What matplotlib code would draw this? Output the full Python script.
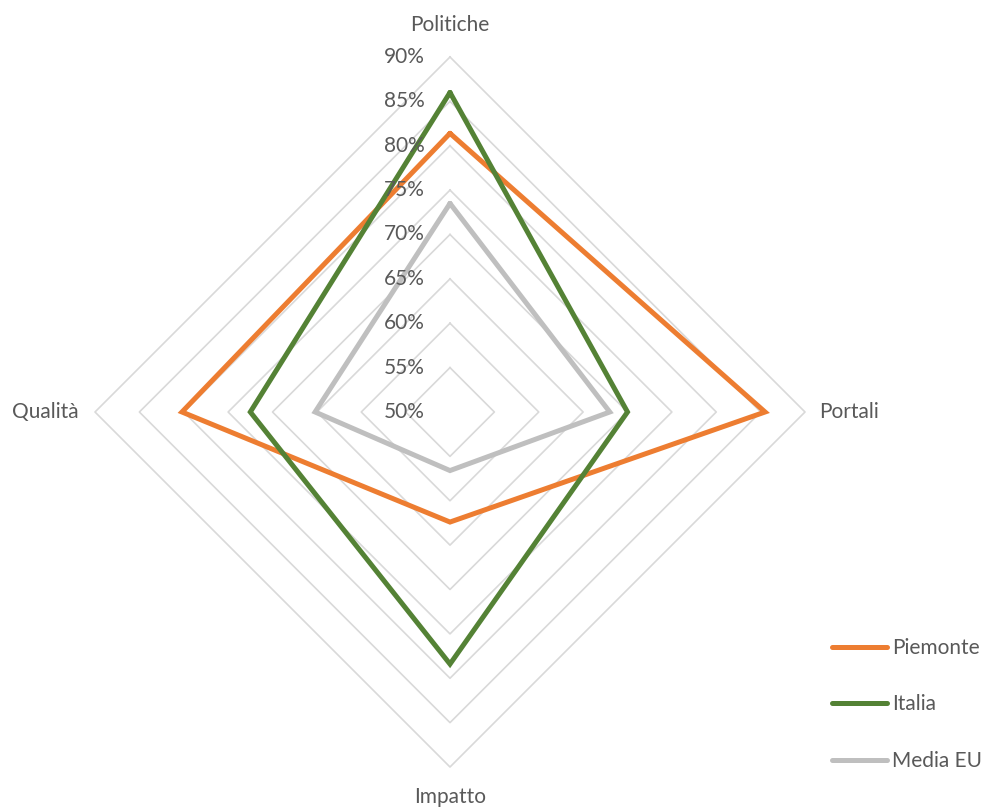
import numpy as np
import matplotlib
matplotlib.use("Agg")
import matplotlib.pyplot as plt

categories = ["Politiche", "Portali", "Impatto", "Qualità"]
piemonte = [81.4, 85.5, 62.4, 80.2]
italia = [86.0, 70.0, 78.4, 72.5]
media_eu = [73.5, 68.0, 56.6, 65.2]
series_names = ["Piemonte", "Italia", "Media EU"]
tick_values = [50, 55, 60, 65, 70, 75, 80, 85, 90]
tick_labels = ["50%", "55%", "60%", "65%", "70%", "75%", "80%", "85%", "90%"]

colors = ["#ED7D31", "#548235", "#BFBFBF"]
grid_color = "#D9D9D9"
text_color = "#595959"
plt.rcParams['font.family'] = ['Lato', 'DejaVu Sans']

W, H = 988, 809
cx, cy = 450, 412  # pixel center (from top)
scale = 8.875      # px per percentage point
rmin, rmax = 50, 90
fs = 15

fig = plt.figure(figsize=(W / 100, H / 100), dpi=100)
ax = fig.add_axes([0, 0, 1, 1])
ax.set_xlim(-cx / scale, (W - cx) / scale)
ax.set_ylim(-(H - cy) / scale, cy / scale)
ax.axis("off")

angles = np.arange(len(categories)) * 2 * np.pi / len(categories)


def xy(values):
    r = np.asarray(values, dtype=float) - rmin
    x = r * np.sin(angles)
    y = r * np.cos(angles)
    return np.append(x, x[0]), np.append(y, y[0])


# grid polygons
for v in tick_values[1:]:
    gx, gy = xy([v] * len(categories))
    ax.plot(gx, gy, color=grid_color, lw=1.2, zorder=1)

# series
for name, vals, c in zip(series_names, [piemonte, italia, media_eu], colors):
    sx, sy = xy(vals)
    ax.plot(sx, sy, color=c, lw=3.6, label=name, zorder=3,
            solid_joinstyle="miter", solid_capstyle="round")

# radial tick labels
for v, lab in zip(tick_values, tick_labels):
    ax.text(-25 / scale, v - rmin, lab, ha="right", va="center",
            fontsize=fs, color=text_color, zorder=4)

# category labels
R = rmax - rmin
ax.text(0, (cy - 25) / scale, categories[0], ha="center", va="center", fontsize=fs, color=text_color)
ax.text(R + 14 / scale, 0, categories[1], ha="left", va="center", fontsize=fs, color=text_color)
ax.text(0, -(797 - cy) / scale, categories[2], ha="center", va="center", fontsize=fs, color=text_color)
ax.text(-R - 16 / scale, 0, categories[3], ha="right", va="center", fontsize=fs, color=text_color)

leg = ax.legend(loc="upper left", bbox_to_anchor=(832 / W, 1 - 638 / H),
                frameon=False, fontsize=fs, handlelength=2.65, handletextpad=0.25,
                labelspacing=1.75, borderaxespad=0, borderpad=0)
for t in leg.get_texts():
    t.set_color(text_color)

fig.savefig("out.png", dpi=100)
